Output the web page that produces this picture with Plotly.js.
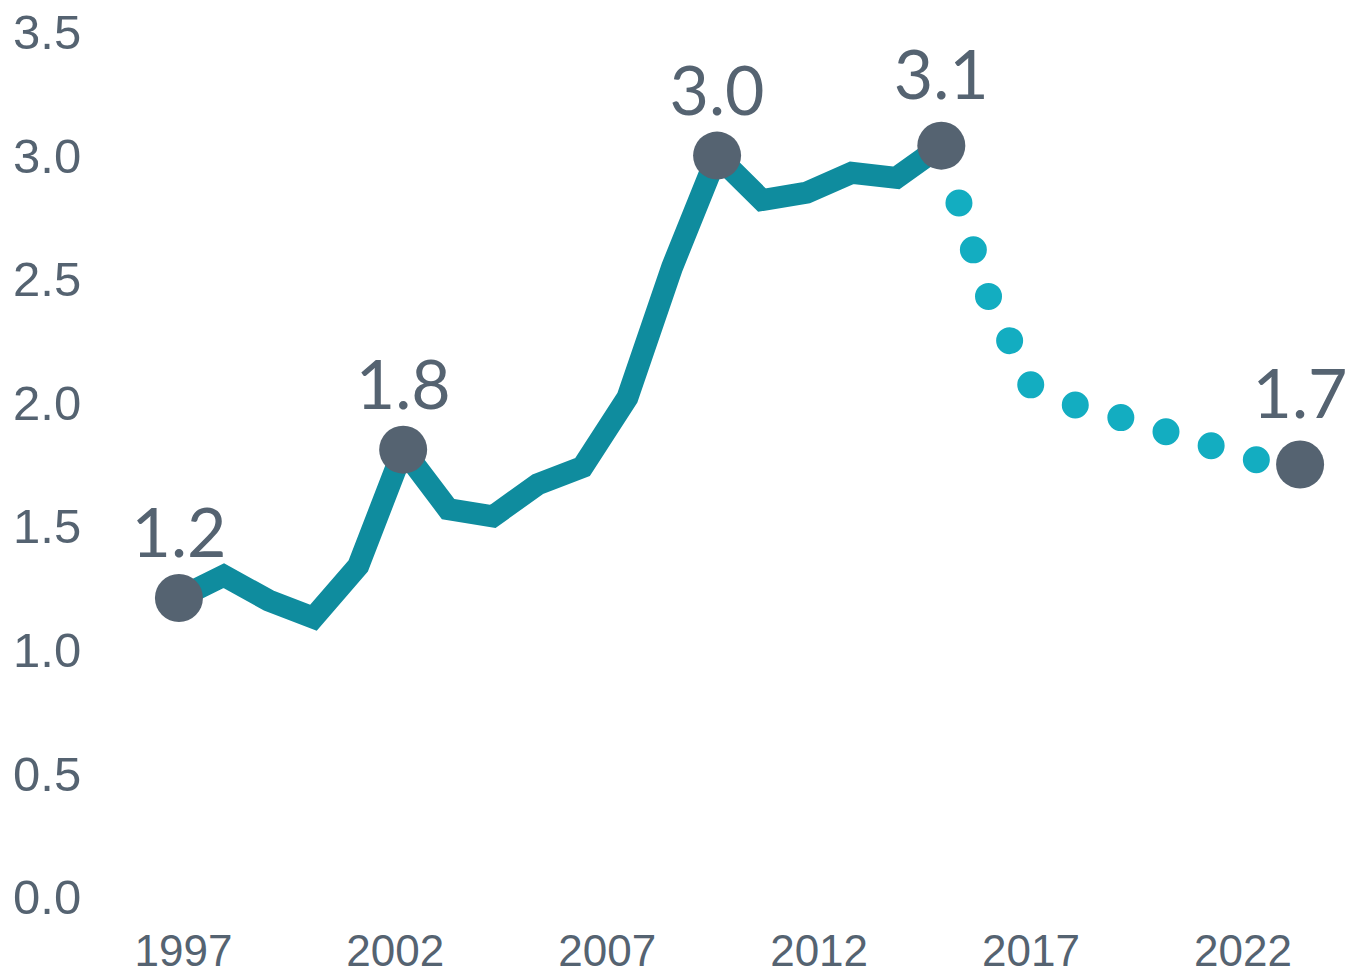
<!DOCTYPE html>
<html>
<head>
<meta charset="utf-8">
<script src="https://cdn.plot.ly/plotly-3.0.1.min.js"></script>
<style>
  html, body { margin: 0; padding: 0; background: #ffffff; }
  #chart { width: 1347px; height: 975px; }
  .scatterlayer .js-line { stroke-linecap: round; }
</style>
</head>
<body>
<div id="chart"></div>
<script>
// ---- data ----
const actualYears = [1997, 1998, 1999, 2000, 2001, 2002, 2003, 2004, 2005, 2006, 2007, 2008, 2009, 2010, 2011, 2012, 2013, 2014];
const actualValues = [1.21, 1.30, 1.20, 1.13, 1.34, 1.81, 1.57, 1.54, 1.67, 1.74, 2.02, 2.55, 3.00, 2.82, 2.85, 2.93, 2.91, 3.04];

const forecastYears = [2014, 2015, 2016, 2017, 2018, 2019, 2020, 2021, 2022];
const forecastValues = [3.04, 2.45, 2.07, 1.99, 1.94, 1.885, 1.825, 1.77, 1.75];

const highlightYears = [1997, 2002, 2009, 2014, 2022];
const highlightLabels = ["1.2", "1.8", "3.0", "3.1", "1.7"];

const xTickLabels = ["1997", "2002", "2007", "2012", "2017", "2022"];
const yTickValues = [0, 0.5, 1, 1.5, 2, 2.5, 3, 3.5];

// ---- build ----
const allYears = actualYears.concat(forecastYears);
const allValues = actualValues.concat(forecastValues);
const highlightValues = highlightYears.map(y => allValues[allYears.indexOf(y)]);

// tick label placement (labels sit on a slightly compressed grid in the original)
const xTickVals = xTickLabels.map((t, i) => 1997.1 + i * 4.725);

// dotted forecast pattern: round dots (zero-length dashes with round caps)
const gaps = [60, 49, 49, 49, 49, 49].concat(Array(10).fill(47.3));
const dotDash = gaps.map(g => "0px," + g + "px").join(",");

// per-label lift (invisible marker size controls label offset)
const labelLift = [36, 36, 36, 46, 46];

const grey = "#556371";

const traces = [
  {
    x: actualYears, y: actualValues, type: "scatter", mode: "lines",
    line: { color: "#0f8c9e", width: 22 },
    hoverinfo: "skip", cliponaxis: false
  },
  {
    x: forecastYears, y: forecastValues, type: "scatter", mode: "lines",
    line: { color: "#13adc1", width: 27, dash: dotDash },
    hoverinfo: "skip", cliponaxis: false
  },
  {
    x: highlightYears, y: highlightValues, type: "scatter", mode: "markers",
    marker: { color: grey, size: 48, line: { width: 0 } },
    hoverinfo: "skip", cliponaxis: false
  },
  {
    x: highlightYears, y: highlightValues, type: "scatter", mode: "markers+text",
    marker: { color: grey, size: labelLift, opacity: 0 },
    text: highlightLabels, textposition: "top center",
    textfont: { family: "Lato, 'Liberation Sans', sans-serif", size: 68, color: grey },
    hoverinfo: "skip", cliponaxis: false
  }
];

const layout = {
  width: 1347, height: 975,
  margin: { l: 100, r: 20, t: 32, b: 78, pad: 0 },
  paper_bgcolor: "#ffffff", plot_bgcolor: "#ffffff",
  showlegend: false,
  font: { family: "'Liberation Sans', Arial, sans-serif", color: grey },
  xaxis: {
    range: [1995.24, 2022.6],
    tickvals: xTickVals, ticktext: xTickLabels,
    showgrid: false, zeroline: false, showline: false,
    ticks: "outside", ticklen: 15, tickcolor: "rgba(0,0,0,0)",
    tickfont: { size: 44, color: grey }
  },
  yaxis: {
    range: [0, 3.5],
    tickvals: yTickValues, tickformat: ".1f",
    showgrid: false, zeroline: false, showline: false,
    ticks: "outside", ticklen: 8, tickcolor: "rgba(0,0,0,0)",
    tickfont: { size: 49, color: grey }
  }
};

Plotly.newPlot("chart", traces, layout, { staticPlot: true, displayModeBar: false });
</script>
</body>
</html>
